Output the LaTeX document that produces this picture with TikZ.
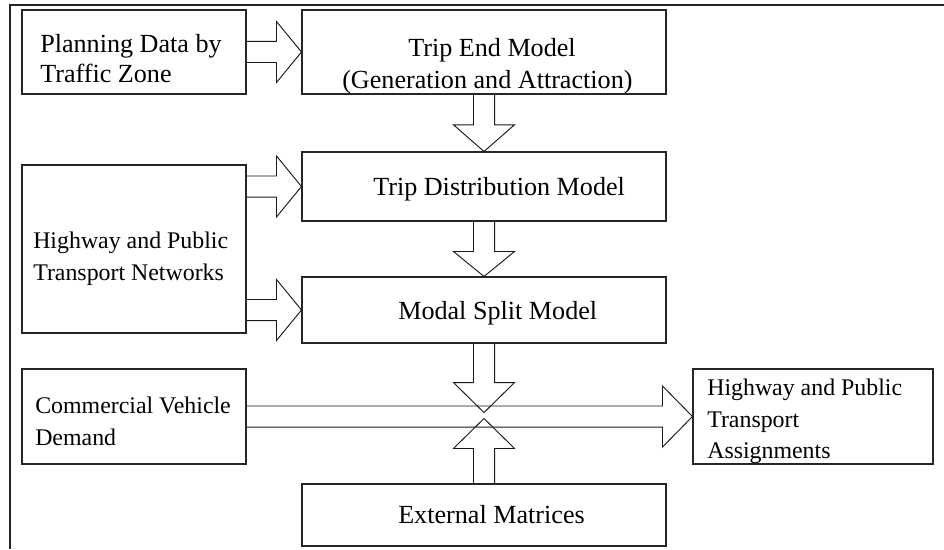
\documentclass[tikz,border=0pt]{standalone}
\usepackage{fontspec}
\setmainfont{Liberation Serif}
\usetikzlibrary{calc}
\tikzset{
  box/.style={draw=black!85, line width=0.8pt, inner sep=0pt, fill=none},
  bigtxt/.style={inner sep=0pt, anchor=base west, font=\fontsize{19.6pt}{23pt}\selectfont},
  smalltxt/.style={inner sep=0pt, anchor=base west, font=\fontsize{17.9pt}{21pt}\selectfont},
  blockarr/.style={draw=black!90, line width=0.7pt, line join=miter},
  frameline/.style={draw=black!85, line width=1.6pt}
}
% block arrow: #1 head length, #2 start point, #3 tip point
\newcommand\blockarrow[3]{%
  \coordinate (bas) at (#2);
  \coordinate (bae) at (#3);
  \coordinate (bab) at ($(bae)!#1!(bas)$);
  \draw[blockarr] ($(bas)!7.9pt!90:(bae)$) -- ($(bab)!7.9pt!-90:(bas)$)
     -- ($(bab)!22.9pt!-90:(bas)$) -- (bae) -- ($(bab)!22.9pt!90:(bas)$)
     -- ($(bab)!7.9pt!90:(bas)$) -- ($(bas)!7.9pt!-90:(bae)$);
}
\begin{document}
\begin{tikzpicture}[x=0.75pt,y=-0.75pt]
\useasboundingbox (0,0) rectangle (944,549);
% outer frame
\draw[frameline] (10,549) -- (10,5) -- (944,5);

% boxes
\node[box, minimum width=168pt, minimum height=63pt] (plan) at (134,52) {};
\node[box, minimum width=273pt, minimum height=63pt] (te) at (484,52) {};
\node[box, minimum width=168pt, minimum height=126pt] (hw) at (134,249) {};
\node[box, minimum width=273pt, minimum height=51.75pt] (td) at (484,186.5) {};
\node[box, minimum width=273pt, minimum height=49.5pt] (ms) at (484,310) {};
\node[box, minimum width=168pt, minimum height=71.25pt] (cv) at (134,416.5) {};
\node[box, minimum width=273pt, minimum height=46.5pt] (em) at (484,515) {};
\node[box, minimum width=180pt, minimum height=71.25pt] (asg) at (813,416.5) {};

% texts
\node[bigtxt] (t1a) at (40,53) {Planning Data by};
\node[bigtxt] (t1b) at (40,83) {Traffic Zone};
\node[bigtxt] (t2a) at (408,57) {Trip End Model};
\node[bigtxt] (t2b) at (342,89) {(Generation and Attraction)};
\node[smalltxt] (t3a) at (33,248) {Highway and Public};
\node[smalltxt] (t3b) at (33,280) {Transport Networks};
\node[bigtxt] (t4) at (373,195) {Trip Distribution Model};
\node[bigtxt] (t5) at (398,319) {Modal Split Model};
\node[smalltxt] (t6a) at (35,413) {Commercial Vehicle};
\node[smalltxt] (t6b) at (35,445) {Demand};
\node[bigtxt] (t7) at (398,523) {External Matrices};
\node[smalltxt] (t8a) at (707,395) {Highway and Public};
\node[smalltxt] (t8b) at (707,427) {Transport};
\node[smalltxt] (t8c) at (707,458) {Assignments};

% connector end points
\coordinate (dtip) at ($(ms.south)+(0,69)$);
\coordinate (utip) at ($(em.north)+(0,-65)$);

% block arrows
\blockarrow{18.75pt}{plan.east}{te.west}
\blockarrow{20pt}{te.south}{td.north}
\blockarrow{18.75pt}{hw.east |- td.west}{td.west}
\blockarrow{18.75pt}{td.south}{ms.north}
\blockarrow{18.75pt}{hw.east |- ms.west}{ms.west}
\blockarrow{22.5pt}{ms.south}{dtip}
\blockarrow{22.5pt}{em.north}{utip}
\blockarrow{22.5pt}{cv.east}{asg.west}
\end{tikzpicture}
\end{document}
